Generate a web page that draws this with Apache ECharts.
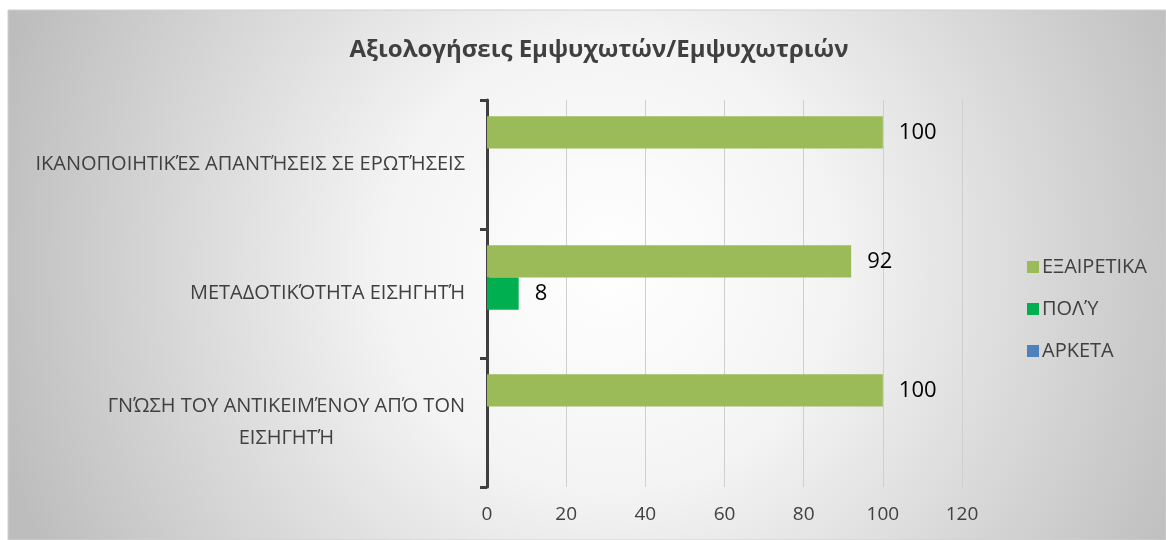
<!DOCTYPE html>
<html>
<head>
<meta charset="utf-8">
<script src="https://cdn.jsdelivr.net/npm/echarts@6/dist/echarts.min.js"></script>
<style>
  html, body { margin: 0; padding: 0; background: #fff; }
  #chart { width: 1166px; height: 540px; }
</style>
</head>
<body>
<div id="chart"></div>
<script>
// categories bottom -> top (ECharts category y axis starts at the bottom)
const categories = [
  'ΓΝΏΣΗ ΤΟΥ ΑΝΤΙΚΕΙΜΈΝΟΥ ΑΠΌ ΤΟΝ ΕΙΣΗΓΗΤΉ',
  'ΜΕΤΑΔΟΤΙΚΌΤΗΤΑ ΕΙΣΗΓΗΤΉ',
  'ΙΚΑΝΟΠΟΙΗΤΙΚΈΣ ΑΠΑΝΤΉΣΕΙΣ ΣΕ ΕΡΩΤΉΣΕΙΣ'
]
const exairetika = [100, 92, 100]
const poly = [0, 8, 0]
const arketa = [0, 0, 0]
const xTicks = [0, 20, 40, 60, 80, 100, 120]

const font = '"Open Sans", "Noto Sans", sans-serif'
const textColor = '#404040'

const chart = echarts.init(document.getElementById('chart'))

const barLabel = {
  show: true,
  position: 'right',
  distance: 16,
  color: '#000',
  fontSize: 22,
  fontFamily: font,
  formatter: (p) => (p.value ? String(p.value) : '')
}

function bar (name, data, color) {
  return {
    name: name,
    type: 'bar',
    data: data,
    barGap: '0%',
    barCategoryGap: '25%',
    itemStyle: { color: color },
    label: barLabel
  }
}

chart.setOption({
  animation: false,
  graphic: [{
    type: 'rect',
    z: -10,
    silent: true,
    shape: { x: 8, y: 10, width: 1158, height: 530 },
    style: {
      fill: new echarts.graphic.RadialGradient(0.52, 0.48, 1.2, [
        { offset: 0, color: '#ffffff' },
        { offset: 0.35, color: '#f4f4f4' },
        { offset: 1, color: '#bdbdbd' }
      ]),
      stroke: '#d0d0d0',
      lineWidth: 1
    }
  }],
  title: {
    text: 'Αξιολογήσεις Εμψυχωτών/Εμψυχωτριών',
    left: 594,
    top: 33,
    textAlign: 'center',
    textStyle: {
      fontFamily: font,
      fontSize: 24,
      fontWeight: 'bold',
      color: textColor
    }
  },
  legend: {
    orient: 'vertical',
    left: 1022,
    top: 252,
    itemWidth: 12,
    itemHeight: 12,
    itemGap: 22,
    icon: 'rect',
    data: ['ΕΞΑΙΡΕΤΙΚΑ', 'ΠΟΛΎ', 'ΑΡΚΕΤΑ'],
    textStyle: { fontFamily: font, fontSize: 20, color: textColor, padding: [0, 0, 0, -2] }
  },
  grid: { left: 487, right: 204, top: 100, bottom: 53, containLabel: false },
  xAxis: {
    type: 'value',
    min: xTicks[0],
    max: xTicks[xTicks.length - 1],
    interval: 20,
    axisLine: { show: false },
    axisTick: { show: false },
    splitLine: { show: true, lineStyle: { color: '#cfcfcf', width: 1 } },
    axisLabel: { fontFamily: font, fontSize: 19, color: textColor, margin: 18 }
  },
  yAxis: {
    type: 'category',
    data: categories,
    axisLine: { show: true, lineStyle: { color: '#3f3f3f', width: 3 } },
    axisTick: { show: true, length: 7, lineStyle: { color: '#3f3f3f', width: 3 } },
    axisLabel: {
      margin: 22,
      fontFamily: font,
      fontSize: 20,
      color: textColor,
      lineHeight: 32,
      formatter: (v) => {
        if (v.indexOf('ΑΠΌ ΤΟΝ') > -1) {
          return '{a|ΓΝΏΣΗ ΤΟΥ ΑΝΤΙΚΕΙΜΈΝΟΥ ΑΠΌ ΤΟΝ}\n{b|ΕΙΣΗΓΗΤΉ}'
        }
        return v
      },
      rich: {
        a: { fontFamily: font, fontSize: 20, color: textColor, lineHeight: 32, align: 'right' },
        b: { fontFamily: font, fontSize: 20, color: textColor, lineHeight: 32, align: 'center' }
      }
    }
  },
  series: [
    bar('ΕΞΑΙΡΕΤΙΚΑ', exairetika, '#9bbb59'),
    bar('ΠΟΛΎ', poly, '#00b050'),
    bar('ΑΡΚΕΤΑ', arketa, '#4f81bd')
  ]
})
</script>
</body>
</html>
